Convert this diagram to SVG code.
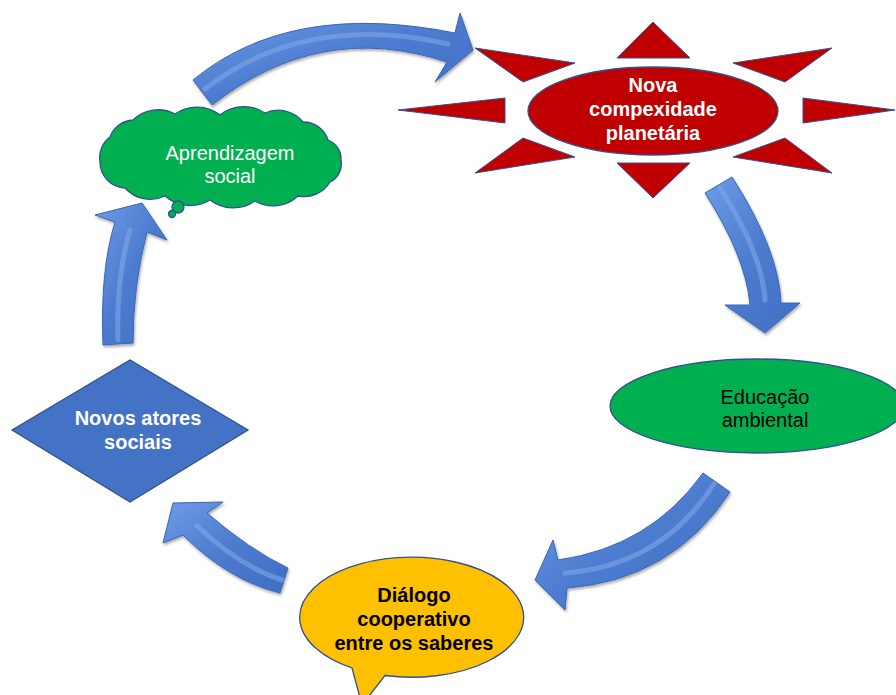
<svg xmlns="http://www.w3.org/2000/svg" width="896" height="695" viewBox="0 0 896 695">
<defs>
<linearGradient id="ag" x1="0" y1="0" x2="1" y2="1">
<stop offset="0" stop-color="#6F9BE6"/>
<stop offset="0.5" stop-color="#4C7CD0"/>
<stop offset="1" stop-color="#3F6EC2"/>
</linearGradient>
<filter id="sh" x="-10%" y="-10%" width="130%" height="130%">
<feGaussianBlur in="SourceAlpha" stdDeviation="1.5"/>
<feOffset dx="1" dy="2"/>
<feComponentTransfer><feFuncA type="linear" slope="0.35"/></feComponentTransfer>
<feMerge><feMergeNode/><feMergeNode in="SourceGraphic"/></feMerge>
</filter>
</defs>
<style>
.arrow{fill:url(#ag);stroke:#3A66B5;stroke-width:1;filter:url(#sh)}
.hl{fill:none;stroke:#7EA5EA;stroke-width:5;stroke-linecap:round;opacity:0.6}
.ray{fill:#C00000;stroke:#2F528F;stroke-width:1}
.shape{stroke:#2F528F;stroke-width:1.3}
.t{font-family:"Liberation Sans",Arial,sans-serif;font-size:20px;text-anchor:middle}
.b{font-weight:bold}
</style>
<rect width="896" height="695" fill="#FFFFFF"/>
<g id="connectors">
<g id="arrow1">
<path class="arrow" d="M193,80 Q290,0 455,33 L460,13 L473,50 L435,82 L447,62 Q320,20 212,105 Z"/>
<path class="hl" d="M205,89 Q305,12 448,44"/>
</g>
<g id="arrow2">
<path class="arrow" d="M705,193 L732,177 Q779,250 781,303 L800,303 L765,333 L725,305 L750,305 Q746,257 705,193 Z"/>
<path class="hl" d="M720,188 Q762,253 765,300"/>
</g>
<g id="arrow3">
<path class="arrow" d="M703,473 L730,492 Q672,580 567,588 L565,610 L535,580 L553,540 L558,560 Q650,547 703,473 Z"/>
<path class="hl" d="M714,484 Q661,566 565,573"/>
</g>
<g id="arrow4">
<path class="arrow" d="M288,568 L280,593 Q228,580 183,535 L163,543 L173,503 L223,502 L207,513 Q250,550 288,568 Z"/>
<path class="hl" d="M282,580 Q239,566 197,526"/>
</g>
<g id="arrow5">
<path class="arrow" d="M103,345 Q100,270 115,222 L95,215 L142,203 L167,240 L147,232 Q133,285 133,343 Z"/>
<path class="hl" d="M118,340 Q116,277 130,230"/>
</g>
</g>
<g id="node-complexidade">
<polygon class="ray" points="653,22 690,58 617,58"/>
<polygon class="ray" points="617,163 690,163 653,198"/>
<polygon class="ray" points="398,110 505,98 505,123"/>
<polygon class="ray" points="803,98 895,110 803,123"/>
<polygon class="ray" points="475,48 575,63 523,82"/>
<polygon class="ray" points="832,48 733,63 785,82"/>
<polygon class="ray" points="475,173 575,157 523,138"/>
<polygon class="ray" points="832,173 733,157 785,138"/>
<ellipse class="shape" cx="653" cy="111" rx="125" ry="44" fill="#C00000"/>
<text class="t b" fill="#FFFFFF"><tspan x="653" y="92">Nova</tspan><tspan x="653" y="116">compexidade</tspan><tspan x="653" y="140">planetária</tspan></text>
</g>
<g id="node-aprendizagem">
<path class="shape" fill="#00B050" d="M100,162 A26,26 0 0,1 110,137 A26,26 0 0,1 133,120 A36,36 0 0,1 175,114 A38,38 0 0,1 220,115 A38,38 0 0,1 265,113 A32,32 0 0,1 303,122 A26,26 0 0,1 328,140 A20,20 0 0,1 341,160 A20,20 0 0,1 330,182 A30,30 0 0,1 298,196 A36,36 0 0,1 255,201 A38,38 0 0,1 210,200 A38,38 0 0,1 165,196 A34,34 0 0,1 125,188 A26,26 0 0,1 100,162 Z"/>
<circle class="shape" cx="178" cy="207" r="6" fill="#00B050"/>
<circle class="shape" cx="172" cy="214" r="3.5" fill="#00B050"/>
<text class="t" fill="#FFFFFF"><tspan x="230" y="160">Aprendizagem</tspan><tspan x="230" y="183">social</tspan></text>
</g>
<g id="node-educacao">
<ellipse class="shape" cx="757" cy="406" rx="147" ry="47" fill="#00B050"/>
<text class="t" fill="#000000"><tspan x="765" y="404">Educação</tspan><tspan x="765" y="427">ambiental</tspan></text>
</g>
<g id="node-dialogo">
<path class="shape" fill="#FFC000" d="M352,668 A112,60 0 1,1 385,675.5 L362,705 Z"/>
<text class="t b" fill="#000000"><tspan x="414" y="602">Diálogo</tspan><tspan x="414" y="626">cooperativo</tspan><tspan x="414" y="650">entre os saberes</tspan></text>
</g>
<g id="node-atores">
<polygon class="shape" fill="#4472C4" points="12,430 130,360 248,430 130,502"/>
<text class="t b" fill="#FFFFFF"><tspan x="138" y="425">Novos atores</tspan><tspan x="138" y="449">sociais</tspan></text>
</g>
</svg>
